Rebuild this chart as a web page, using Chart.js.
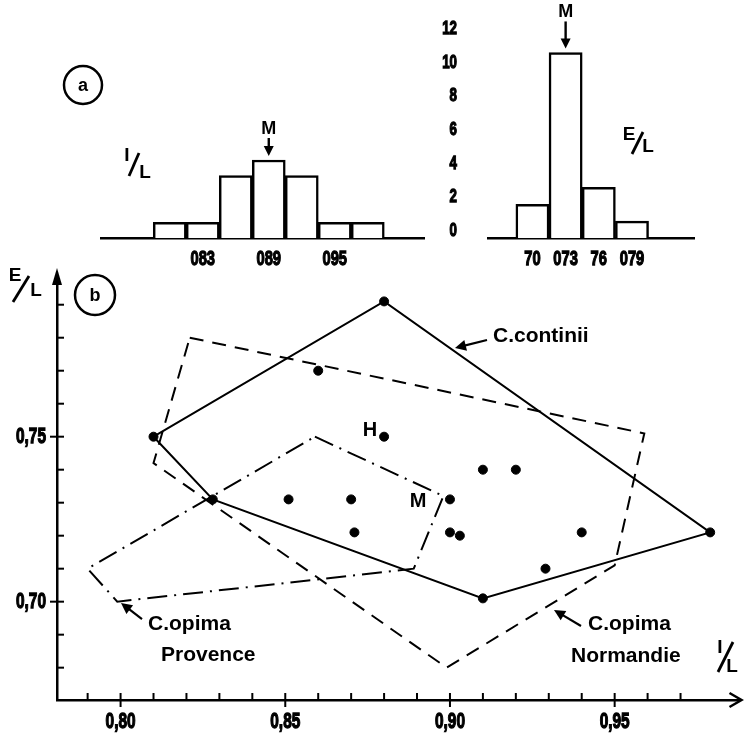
<!DOCTYPE html>
<html>
<head>
<meta charset="utf-8">
<script src="https://cdn.jsdelivr.net/npm/chart.js@4.4.1/dist/chart.umd.min.js"></script>
<style>
  html, body { margin: 0; padding: 0; background: #fff; }
  #wrap { position: relative; width: 745px; height: 736px; overflow: hidden; }
  canvas { position: absolute; }
  #chartB { left: 0; top: 0; }
  #histIL { left: 100px; top: 0; }
  #histEL { left: 430px; top: 0; }
</style>
</head>
<body>
<div id="wrap">
  <canvas id="chartB" width="745" height="736"></canvas>
  <canvas id="histIL" width="325" height="270"></canvas>
  <canvas id="histEL" width="265" height="270"></canvas>
</div>
<script>
// données
// (b) nuage de points I/L - E/L
const specimenIL = [0.810, 0.880, 0.979, 0.910, 0.828, 0.860, 0.880, 0.910, 0.920, 0.851, 0.870, 0.900, 0.871, 0.900, 0.903, 0.940, 0.929];
const specimenEL = [0.750, 0.791, 0.721, 0.701, 0.731, 0.770, 0.750, 0.740, 0.740, 0.731, 0.731, 0.731, 0.721, 0.721, 0.720, 0.721, 0.710];
// contours des populations
const continiiIL = [0.810, 0.880, 0.979, 0.910, 0.828, 0.810];
const continiiEL = [0.750, 0.791, 0.721, 0.701, 0.731, 0.750];
const normandieIL = [0.821, 0.959, 0.950, 0.899, 0.810, 0.821];
const normandieEL = [0.780, 0.751, 0.711, 0.680, 0.742, 0.780];
const provenceIL = [0.859, 0.898, 0.889, 0.799, 0.790, 0.859];
const provenceEL = [0.750, 0.732, 0.710, 0.700, 0.710, 0.750];
const mainXTicks = [0.80, 0.85, 0.90, 0.95];
const mainYTicks = [0.70, 0.75];

// (a) histogrammes
const ilBinCentres = [0.80, 0.83, 0.86, 0.89, 0.92, 0.95, 0.98];
const ilCounts = [1, 1, 4, 5, 4, 1, 1];
const ilTickValues = [0.83, 0.89, 0.95];
const ilTickLabels = ['083', '089', '095'];
const elBinCentres = [0.70, 0.73, 0.76, 0.79];
const elCounts = [2, 11, 3, 1];
const elTickValues = [0.70, 0.73, 0.76, 0.79];
const elTickLabels = ['70', '073', '76', '079'];
const countTicks = [0, 2, 4, 6, 8, 10, 12];

const NUM_FONT = '"Liberation Sans", sans-serif';
const TXT_FONT = '"Liberation Sans", "DejaVu Sans", sans-serif';
Chart.defaults.color = '#000';

const toPoints = (xs, ys) => xs.map((x, i) => ({ x: x, y: ys[i] }));
const frNum = v => v.toFixed(2).replace('.', ',');

function arrow(ctx, x1, y1, x2, y2, head) {
  const a = Math.atan2(y2 - y1, x2 - x1);
  ctx.beginPath();
  ctx.moveTo(x1, y1);
  ctx.lineTo(x2 - Math.cos(a) * head * 0.7, y2 - Math.sin(a) * head * 0.7);
  ctx.stroke();
  ctx.beginPath();
  ctx.moveTo(x2, y2);
  ctx.lineTo(x2 - head * Math.cos(a) + head * 0.5 * Math.sin(a), y2 - head * Math.sin(a) - head * 0.5 * Math.cos(a));
  ctx.lineTo(x2 - head * Math.cos(a) - head * 0.5 * Math.sin(a), y2 - head * Math.sin(a) + head * 0.5 * Math.cos(a));
  ctx.closePath();
  ctx.fill();
}

// lettre / lettre façon "I/L"
function frac(ctx, num, den, n, d, s, size) {
  ctx.font = 'bold ' + size + 'px ' + TXT_FONT;
  ctx.textAlign = 'center';
  ctx.textBaseline = 'middle';
  ctx.fillText(num, n[0], n[1]);
  ctx.fillText(den, d[0], d[1]);
  ctx.lineWidth = 2.8;
  ctx.beginPath();
  ctx.moveTo(s[0], s[1]);
  ctx.lineTo(s[2], s[3]);
  ctx.stroke();
}

function circled(ctx, letter, x, y, r) {
  ctx.lineWidth = 2.5;
  ctx.beginPath();
  ctx.arc(x, y, r, 0, Math.PI * 2);
  ctx.stroke();
  ctx.font = 'bold 18px ' + TXT_FONT;
  ctx.textAlign = 'center';
  ctx.textBaseline = 'middle';
  ctx.fillText(letter, x, y + 1);
}

// étiquettes de graduation en chiffres étroits (pas de police condensée installée)
function narrowLabels(specs) {
  return {
    id: 'narrowLabels',
    afterDraw(chart) {
      const ctx = chart.ctx;
      ctx.save();
      ctx.fillStyle = '#000';
      ctx.strokeStyle = '#000';
      ctx.textBaseline = 'middle';
      specs.forEach(sp => {
        const sc = chart.scales[sp.axis];
        ctx.font = 'bold ' + sp.size + 'px ' + NUM_FONT;
        sc.ticks.forEach((t, i) => {
          const p = sc.getPixelForValue(t.value);
          const x = sp.axis === 'x' ? p : sp.at;
          const y = sp.axis === 'x' ? sp.at : p + (sp.dy || 0);
          const label = sp.text(t.value, i);
          ctx.save();
          ctx.translate(x, y);
          ctx.scale(0.7, 1);
          ctx.textAlign = sp.align;
          ctx.lineWidth = 1.3;
          ctx.strokeText(label, 0, 0);
          ctx.fillText(label, 0, 0);
          ctx.restore();
        });
      });
      ctx.restore();
    }
  };
}

const decorB = {
  id: 'decorB',
  afterDraw(chart) {
    const ctx = chart.ctx;
    const xs = chart.scales.x, ys = chart.scales.y;
    const area = chart.chartArea;
    ctx.save();
    ctx.strokeStyle = '#000';
    ctx.fillStyle = '#000';
    ctx.lineWidth = 2;
    // graduations vers l'intérieur
    for (let k = 79; k <= 97; k++) {
      const px = xs.getPixelForValue(k / 100);
      const major = k % 5 === 0;
      ctx.beginPath();
      ctx.moveTo(px, area.bottom + (major ? 7 : 0));
      ctx.lineTo(px, area.bottom - 7);
      ctx.stroke();
    }
    for (let k = 68; k <= 79; k++) {
      const py = ys.getPixelForValue(k / 100);
      const major = k % 5 === 0;
      ctx.beginPath();
      ctx.moveTo(area.left - (major ? 7 : 0), py);
      ctx.lineTo(area.left + 7, py);
      ctx.stroke();
    }
    // flèches des axes
    ctx.beginPath();
    ctx.moveTo(area.left, area.top - 9);
    ctx.lineTo(area.left - 5, area.top + 8);
    ctx.lineTo(area.left + 5, area.top + 8);
    ctx.closePath();
    ctx.fill();
    ctx.lineWidth = 2.5;
    ctx.beginPath();
    ctx.moveTo(area.right - 10, area.bottom - 7);
    ctx.lineTo(area.right + 2, area.bottom);
    ctx.lineTo(area.right - 10, area.bottom + 7);
    ctx.stroke();

    // titres des axes
    frac(ctx, 'E', 'L', [15, 276], [36, 291], [13, 302, 29, 276], 19);
    frac(ctx, 'I', 'L', [720, 648], [732, 667], [718, 672, 733, 642], 19);
    frac(ctx, 'I', 'L', [127, 156], [145, 173], [129, 176, 139, 153], 19);
    frac(ctx, 'E', 'L', [629, 135], [648, 147], [632, 154, 643, 132], 19);

    circled(ctx, 'a', 83, 85, 19);
    circled(ctx, 'b', 95, 295, 20);

    // étiquettes
    ctx.font = 'bold 21px ' + TXT_FONT;
    ctx.textAlign = 'left';
    ctx.textBaseline = 'middle';
    ctx.fillText('C.continii', 493, 336);
    ctx.fillText('C.opima', 148, 624);
    ctx.fillText('Provence', 161, 655);
    ctx.fillText('C.opima', 588, 624);
    ctx.fillText('Normandie', 571, 656);
    ctx.textAlign = 'center';
    ctx.font = 'bold 20px ' + TXT_FONT;
    ctx.fillText('H', 370, 430);
    ctx.fillText('M', 418, 501);

    ctx.lineWidth = 2.2;
    arrow(ctx, 487, 340, 455, 348, 11);
    arrow(ctx, 142, 619, 121, 603, 11);
    arrow(ctx, 581, 626, 554, 610, 11);
    ctx.restore();
  }
};

const modeArrow = {
  id: 'modeArrow',
  afterDatasetsDraw(chart, args, opts) {
    const counts = chart.data.datasets[0].data.map(d => d.y);
    const k = counts.indexOf(Math.max(...counts));
    const bar = chart.getDatasetMeta(0).data[k];
    const ctx = chart.ctx;
    const tip = bar.y - 4;
    ctx.save();
    ctx.strokeStyle = '#000';
    ctx.fillStyle = '#000';
    ctx.lineWidth = 2.4;
    arrow(ctx, bar.x, tip - opts.length, bar.x, tip, 10);
    ctx.font = 'bold 18px ' + TXT_FONT;
    ctx.textAlign = 'center';
    ctx.textBaseline = 'middle';
    ctx.fillText('M', bar.x, tip - opts.length - 9);
    ctx.restore();
  }
};

// (b)
new Chart(document.getElementById('chartB'), {
  type: 'scatter',
  data: {
    datasets: [
      {
        label: 'spécimens',
        data: toPoints(specimenIL, specimenEL),
        pointRadius: 4.5,
        pointBackgroundColor: '#000',
        pointBorderColor: '#000',
        showLine: false
      },
      {
        label: 'C.continii',
        data: toPoints(continiiIL, continiiEL),
        showLine: true,
        borderColor: '#000',
        borderWidth: 2,
        pointRadius: 0,
        tension: 0
      },
      {
        label: 'C.opima Normandie',
        data: toPoints(normandieIL, normandieEL),
        showLine: true,
        borderColor: '#000',
        borderWidth: 2,
        borderDash: [14, 9],
        pointRadius: 0,
        tension: 0
      },
      {
        label: 'C.opima Provence',
        data: toPoints(provenceIL, provenceEL),
        showLine: true,
        borderColor: '#000',
        borderWidth: 2,
        borderDash: [20, 7, 2, 7],
        pointRadius: 0,
        tension: 0
      }
    ]
  },
  options: {
    responsive: false,
    animation: false,
    layout: { padding: { top: 277, right: 3, left: 0, bottom: 0 } },
    plugins: { legend: { display: false }, tooltip: { enabled: false } },
    scales: {
      x: {
        type: 'linear',
        min: 0.7807,
        max: 0.9879,
        grid: { display: false, drawTicks: false },
        border: { color: '#000', width: 2.5 },
        afterFit: s => { s.height = 36; },
        afterBuildTicks: s => { s.ticks = mainXTicks.map(v => ({ value: v })); },
        ticks: { display: false }
      },
      y: {
        type: 'linear',
        min: 0.6702,
        max: 0.7984,
        grid: { display: false, drawTicks: false },
        border: { color: '#000', width: 2.5 },
        afterFit: s => { s.width = 57; },
        afterBuildTicks: s => { s.ticks = mainYTicks.map(v => ({ value: v })); },
        ticks: { display: false }
      }
    }
  },
  plugins: [decorB, narrowLabels([
    { axis: 'x', at: 722, size: 22, align: 'center', text: frNum },
    { axis: 'y', at: 46, size: 22, align: 'right', text: frNum }
  ])]
});

// (a) histogramme I/L
new Chart(document.getElementById('histIL'), {
  type: 'bar',
  data: {
    datasets: [{
      data: toPoints(ilBinCentres, ilCounts),
      backgroundColor: '#fff',
      borderColor: '#000',
      borderWidth: 2.5,
      barPercentage: 1,
      categoryPercentage: 1
    }]
  },
  options: {
    responsive: false,
    animation: false,
    plugins: { legend: { display: false }, tooltip: { enabled: false }, modeArrow: { length: 18 } },
    scales: {
      x: {
        type: 'linear',
        min: 0.7366,
        max: 1.032,
        offset: false,
        grid: { display: false, drawTicks: false },
        border: { color: '#000', width: 2.5 },
        afterFit: s => { s.height = 32; },
        afterBuildTicks: s => { s.ticks = ilTickValues.map(v => ({ value: v })); },
        ticks: { display: false }
      },
      y: { display: false, min: 0, max: 15.26 }
    }
  },
  plugins: [modeArrow, narrowLabels([
    { axis: 'x', at: 259, size: 21, align: 'center', text: (v, i) => ilTickLabels[i] }
  ])]
});

// (a) histogramme E/L
new Chart(document.getElementById('histEL'), {
  type: 'bar',
  data: {
    datasets: [{
      data: toPoints(elBinCentres, elCounts),
      backgroundColor: '#fff',
      borderColor: '#000',
      borderWidth: 2.5,
      barPercentage: 1,
      categoryPercentage: 1
    }]
  },
  options: {
    responsive: false,
    animation: false,
    plugins: { legend: { display: false }, tooltip: { enabled: false }, modeArrow: { length: 27 } },
    scales: {
      x: {
        type: 'linear',
        min: 0.6598,
        max: 0.847,
        offset: false,
        grid: { display: false, drawTicks: false },
        border: { color: '#000', width: 2.5 },
        afterFit: s => { s.height = 32; },
        afterBuildTicks: s => { s.ticks = elTickValues.map(v => ({ value: v })); },
        ticks: { display: false }
      },
      y: {
        min: 0,
        max: 14.11,
        grid: { display: false, drawTicks: false },
        border: { display: false },
        afterFit: s => { s.width = 58; },
        afterBuildTicks: s => { s.ticks = countTicks.map(v => ({ value: v })); },
        ticks: { display: false }
      }
    }
  },
  plugins: [modeArrow, narrowLabels([
    { axis: 'x', at: 259, size: 21, align: 'center', text: (v, i) => elTickLabels[i] },
    { axis: 'y', at: 27, dy: -7, size: 19, align: 'right', text: v => String(v) }
  ])]
});
</script>
</body>
</html>
